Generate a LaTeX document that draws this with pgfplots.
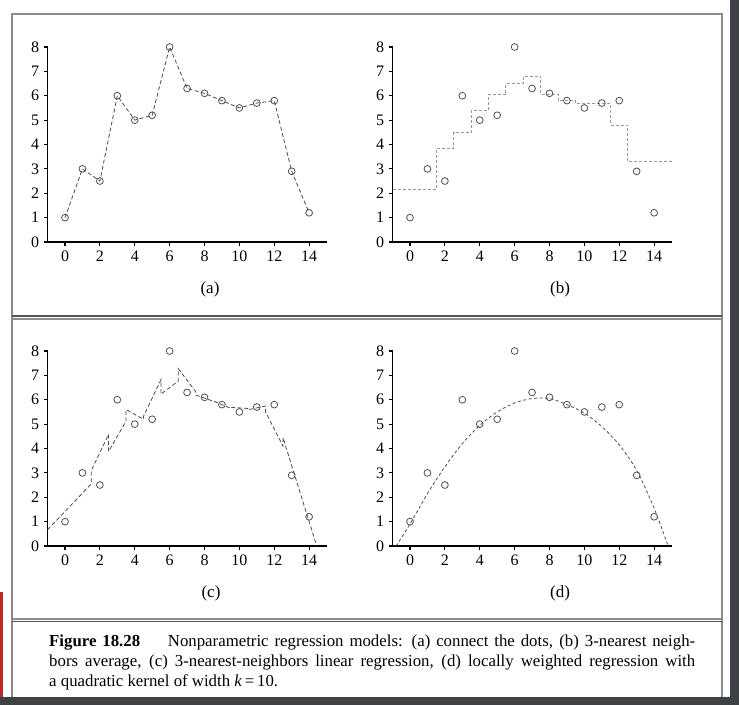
\documentclass[border=0pt]{standalone}
\usepackage{fontspec}
\setmainfont{Liberation Serif}
\usepackage{pgfplots}
\usepackage{pgfplotstable}
\pgfplotsset{compat=1.18}
\definecolor{framec}{HTML}{8C8C8C}
\definecolor{darkline}{HTML}{555555}
\definecolor{darkb}{HTML}{3E4246}
\definecolor{redbar}{HTML}{C0262C}
\definecolor{markc}{HTML}{505050}

\pgfplotstableread{
x y
0 1
1 3
2 2.5
3 6
4 5
5 5.2
6 8
7 6.3
8 6.1
9 5.8
10 5.5
11 5.7
12 5.8
13 2.9
14 1.2
}\pts

% 3-nearest-neighbours average (step function)
\pgfplotstableread{
x y
-1 2.167
1.5 3.833
2.5 4.5
3.5 5.4
4.5 6.067
5.5 6.5
6.5 6.8
7.5 6.067
8.5 5.8
9.5 5.667
10.5 5.667
11.5 4.8
12.5 3.3
15 3.3
}\knnavg

% 3-nearest-neighbours linear regression (piecewise linear)
\pgfplotstableread{
x y
-1 0.667
1.5 2.542
1.5 3.083
2.5 4.583
2.5 3.875
3.5 5.125
3.5 5.6
4.5 5.2
4.5 5.317
5.5 6.817
5.5 6.225
6.5 6.775
6.5 7.275
7.5 6.325
7.5 6.192
8.5 5.942
8.5 5.95
9.5 5.65
9.5 5.692
10.5 5.642
10.5 5.592
11.5 5.742
11.5 5.5
12.5 4.1
12.5 4.45
14.435 0
}\knnlin

% locally weighted regression
\pgfplotstableread{
x y
-0.8 0
0 0.9
1 2.15
2 3.25
3 4.2
4 4.95
5 5.5
6 5.87
7 6.05
8 6.05
9 5.8
10 5.45
11 4.9
12 4.15
13 3.1
14 1.55
14.8 0
}\lwr

\pgfplotsset{
  panel/.style={
    scale only axis, width=279bp, height=195bp,
    anchor=origin,
    xmin=-1, xmax=15, ymin=0, ymax=8,
    axis x line=bottom, axis y line=left,
    axis line style={line width=1.8bp, black, -},
    xtick={0,2,...,14}, ytick={0,1,...,8},
    tick align=outside, major tick length=3.5bp,
    every tick/.style={black, line width=1.2bp},
    tick label style={font=\fontsize{16bp}{18bp}\selectfont, text=black},
    /pgf/number format/assume math mode=true,
    xticklabel style={yshift=-2bp},
    yticklabel style={xshift=-1.5bp},
    clip=false,
  },
  pts/.style={only marks, mark=o, mark size=3.4bp,
    mark options={solid, draw=markc, line width=0.8bp}},
}

\begin{document}
\begin{tikzpicture}
\useasboundingbox (0,0) rectangle (739bp,-705bp);
\fill[white] (0,0) rectangle (739bp,-705bp);
\fill[darkb] (730bp,0) rectangle (739bp,-705bp);
\fill[darkb] (0,-697bp) rectangle (739bp,-705bp);
\fill[redbar] (0,-592bp) rectangle (3bp,-697bp);
\draw[framec, line width=1.5bp] (12bp,-697bp) -- (12bp,-14bp) -- (722bp,-14bp) -- (722bp,-697bp);
\draw[darkline, line width=1.5bp] (12bp,-316bp) -- (722bp,-316bp);
\draw[framec, line width=1.2bp] (12bp,-319bp) -- (722bp,-319bp);
\draw[framec, line width=1.2bp] (12bp,-619bp) -- (722bp,-619bp);
\draw[darkline, line width=1.2bp] (12bp,-621.5bp) -- (722bp,-621.5bp);

% (a)
\begin{axis}[panel, at={(65bp,-242bp)}]
\addplot[color=black!70, line width=0.8bp, dash pattern=on 4bp off 2.5bp] table[x=x,y=y] {\pts};
\addplot[pts] table[x=x,y=y] {\pts};
\end{axis}
% (b)
\begin{axis}[panel, at={(410bp,-242bp)}]
\addplot[color=black!40, line width=1bp, dash pattern=on 3bp off 2bp, const plot mark left] table[x=x,y=y] {\knnavg};
\addplot[pts] table[x=x,y=y] {\pts};
\end{axis}
% (c)
\begin{axis}[panel, at={(65bp,-546bp)}]
\addplot[color=black!70, line width=0.8bp, dash pattern=on 4bp off 2.5bp] table[x=x,y=y] {\knnlin};
\addplot[pts] table[x=x,y=y] {\pts};
\end{axis}
% (d)
\begin{axis}[panel, at={(410bp,-546bp)}]
\addplot[color=black!70, line width=0.8bp, dash pattern=on 3bp off 2.5bp, smooth] table[x=x,y=y] {\lwr};
\addplot[pts] table[x=x,y=y] {\pts};
\end{axis}

\begin{scope}[every node/.style={font=\fontsize{17bp}{20bp}\selectfont, inner sep=0pt}]
\node at (210bp,-289bp) {(a)};
\node at (560bp,-289bp) {(b)};
\node at (211bp,-593bp) {(c)};
\node at (560bp,-593bp) {(d)};
\node[anchor=base west] at (49bp,-646bp) {\parbox[t]{646bp}{\fontsize{16.8bp}{20.3bp}\selectfont
\textbf{Figure 18.28}\hspace{1.3em} Nonparametric regression models: (a) connect the dots, (b) 3-nearest neigh-\linebreak bors average, (c) 3-nearest-neighbors linear regression, (d) locally weighted regression with\linebreak a quadratic kernel of width \textit{k}\,=\,10.}};
\end{scope}
\end{tikzpicture}
\end{document}
